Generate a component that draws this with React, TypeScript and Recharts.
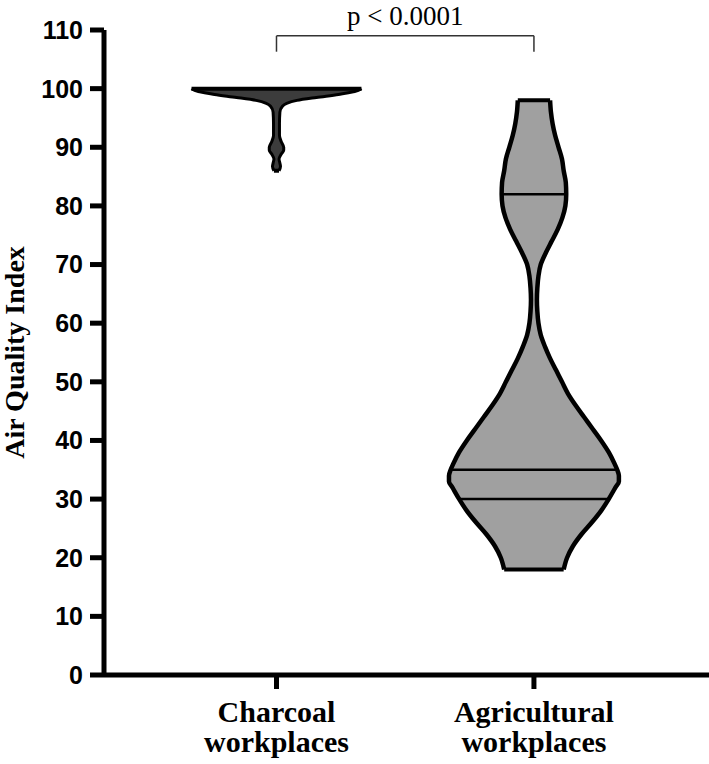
import { ComposedChart, Area, XAxis, YAxis, ReferenceLine } from "recharts";

const categories = ["Charcoal workplaces", "Agricultural workplaces"];
const yTicks = [0, 10, 20, 30, 40, 50, 60, 70, 80, 90, 100, 110];

// [AQI, relative violin width], widest point = 1
const charcoalDensity: [number, number][] = [
  [100, 1], [99.5, 0.92], [99, 0.73], [98.5, 0.47], [98, 0.24], [97.5, 0.12],
  [97, 0.07], [96, 0.04], [94, 0.035], [92, 0.035], [91, 0.055], [90, 0.085],
  [89.5, 0.085], [88.8, 0.055], [88, 0.03], [87.3, 0.04], [86.7, 0.047], [86, 0.03],
];

const agriculturalDensity: [number, number][] = [
  [98, 0.19], [96, 0.2], [94, 0.22], [92, 0.25], [90, 0.29], [88, 0.33], [86, 0.35],
  [84, 0.375], [82, 0.38], [80, 0.37], [78, 0.335], [76, 0.28], [74, 0.21], [72, 0.14],
  [70, 0.08], [68, 0.053], [66, 0.04], [64, 0.035], [62, 0.04], [60, 0.053], [58, 0.08],
  [56, 0.13], [54, 0.19], [52, 0.26], [50, 0.33], [48, 0.4], [46, 0.49], [44, 0.59],
  [42, 0.69], [40, 0.79], [38, 0.88], [36, 0.95], [35, 0.98], [34, 1], [33, 1],
  [32, 0.96], [30, 0.88], [28, 0.79], [26, 0.68], [24, 0.56], [22, 0.46], [20, 0.39],
  [18, 0.35],
];

const agriculturalQuartiles = [30, 35, 82];
const pLabel = "p < 0.0001";

const MAX_HALF = 0.33;
const SERIF = "'Liberation Serif', 'Times New Roman', serif";
const SANS = "'Liberation Sans', Arial, sans-serif";

const groups = [
  { key: "charcoal", pos: 1, density: charcoalDensity, fill: "#3c3c3c", quartiles: [] as number[] },
  { key: "agri", pos: 2, density: agriculturalDensity, fill: "#a0a0a0", quartiles: agriculturalQuartiles },
];

const rowMap = new Map<number, any>();
groups.forEach((g) =>
  g.density.forEach(([y, w]) => {
    const row = rowMap.get(y) ?? { y, charcoal: [null, null], agri: [null, null] };
    row[g.key] = [g.pos - w * MAX_HALF, g.pos + w * MAX_HALF];
    rowMap.set(y, row);
  })
);
const rows = [...rowMap.values()].sort((a, b) => b.y - a.y);

function widthAt(density: [number, number][], y: number) {
  const hit = density.find((d) => d[0] === y);
  return hit ? hit[1] * MAX_HALF : 0;
}

function CategoryTick({ x, y, payload }: any) {
  const words = categories[payload.value - 1].split(" ");
  return (
    <text x={x} y={y} textAnchor="middle" fontFamily={SERIF} fontWeight="bold" fontSize={30} fill="#000">
      <tspan x={x} dy={31}>{words[0]}</tspan>
      <tspan x={x} dy={30}>{words[1]}</tspan>
    </text>
  );
}

export default function App() {
  const lines: any[] = [];
  groups.forEach((g) => {
    const first = g.density[0];
    const last = g.density[g.density.length - 1];
    [first, last].forEach(([y, w], i) =>
      lines.push({ key: `${g.key}-cap-${i}`, pos: g.pos, y, hw: w * MAX_HALF, width: 4 })
    );
    g.quartiles.forEach((q) =>
      lines.push({ key: `${g.key}-q-${q}`, pos: g.pos, y: q, hw: widthAt(g.density, q), width: 2.5 })
    );
  });

  return (
    <div style={{ position: "absolute", left: 0, top: 0 }}>
      <ComposedChart
        width={709}
        height={764}
        layout="vertical"
        data={rows}
        margin={{ top: 30, right: 0, bottom: 0, left: 0 }}
      >
        <XAxis
          type="number"
          domain={[0.33, 2.68]}
          allowDataOverflow
          ticks={[1, 2]}
          tick={<CategoryTick />}
          tickSize={14}
          height={89}
          axisLine={{ stroke: "#000", strokeWidth: 5 }}
          tickLine={{ stroke: "#000", strokeWidth: 5 }}
        />
        <YAxis
          type="number"
          dataKey="y"
          reversed
          domain={[0, 110]}
          ticks={yTicks}
          interval={0}
          width={104}
          tickSize={14}
          tickMargin={7}
          axisLine={{ stroke: "#000", strokeWidth: 5 }}
          tickLine={{ stroke: "#000", strokeWidth: 5 }}
          tick={{ fill: "#000", fontFamily: SANS, fontWeight: "bold", fontSize: 25 }}
          label={{
            value: "Air Quality Index",
            angle: -90,
            position: "insideLeft",
            offset: 14,
            style: { textAnchor: "middle", fontFamily: SERIF, fontWeight: "bold", fontSize: 28, fill: "#000" },
          }}
        />
        {groups.map((g) => (
          <Area
            key={g.key}
            dataKey={g.key}
            type="monotone"
            connectNulls
            fill={g.fill}
            fillOpacity={1}
            stroke="#000"
            strokeWidth={g.key === "charcoal" ? 3 : 4.5}
            dot={false}
            activeDot={false}
            isAnimationActive={false}
          />
        ))}
        {lines.map((l) => (
          <ReferenceLine
            key={l.key}
            segment={[{ x: l.pos - l.hw, y: l.y }, { x: l.pos + l.hw, y: l.y }]}
            stroke="#000"
            strokeWidth={l.width}
            ifOverflow="visible"
          />
        ))}
        <ReferenceLine segment={[{ x: 1, y: 106.3 }, { x: 1, y: 109 }]} stroke="#333" strokeWidth={1.5} ifOverflow="visible" />
        <ReferenceLine segment={[{ x: 2, y: 106.3 }, { x: 2, y: 109 }]} stroke="#333" strokeWidth={1.5} ifOverflow="visible" />
        <ReferenceLine
          segment={[{ x: 1, y: 109 }, { x: 2, y: 109 }]}
          stroke="#333"
          strokeWidth={1.5}
          ifOverflow="visible"
          label={{ value: pLabel, position: "top", offset: 11, fill: "#000", fontFamily: SERIF, fontSize: 27 }}
        />
      </ComposedChart>
    </div>
  );
}
